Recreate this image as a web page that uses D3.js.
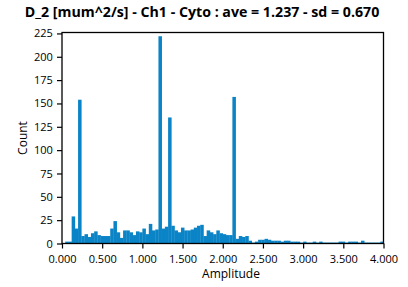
<!DOCTYPE html>
<html><head><meta charset="utf-8">
<script src="https://cdn.jsdelivr.net/npm/d3@7"></script>
<style>body{margin:0;background:#fff;}svg{display:block;}</style>
</head><body>
<script>
const title = "D_2 [mum^2/s] - Ch1 - Cyto : ave = 1.237 - sd = 0.670";
const xLabel = "Amplitude";
const yLabel = "Count";
const binWidth = 0.04;
const counts = [0,2,2,29,16,154,8,10,7,11,13,9,8,8,8,16,24,12,6,14,
14,12,9,13,12,16,10,21,14,15,222,16,18,135,19,14,12,17,14,14,
15,17,19,20,8,14,12,10,14,11,10,9,9,157,5,8,7,8,3,1,
2,4,4,5,4,3,3,3,2,3,3,2,2,2,1,2,1,1,2,1,
2,1,1,1,1,1,2,2,1,2,2,2,1,3,1,1,1,1,1,2];
const xTicks = [0,0.5,1,1.5,2,2.5,3,3.5,4];
const yTicks = [0,25,50,75,100,125,150,175,200,225];

const W=408,H=287;
const svg=d3.select("body").append("svg").attr("width",W).attr("height",H);
const L=62,R=383.5,T=32.5,B=243.5;
const x=d3.scaleLinear().domain([0,4]).range([L,R]);
const y=d3.scaleLinear().domain([0,226]).range([B,T]);
const font="'Segoe UI','Open Sans','DejaVu Sans',sans-serif";

svg.append("g").selectAll("rect").data(counts).join("rect")
  .attr("x",(d,i)=>x(i*binWidth))
  .attr("width",(d,i)=>x((i+1)*binWidth)-x(i*binWidth)+0.3)
  .attr("y",d=>y(d))
  .attr("height",d=>y(0)-y(d))
  .attr("fill","#0a84c6");

const xa=svg.append("g").attr("transform",`translate(0,${B})`)
  .call(d3.axisBottom(x).tickValues(xTicks).tickFormat(d3.format(".3f")).tickSize(5).tickSizeOuter(0));
const ya=svg.append("g").attr("transform",`translate(${L},0)`)
  .call(d3.axisLeft(y).tickValues(yTicks).tickSize(5).tickSizeOuter(0));
[xa,ya].forEach(a=>{
  a.select(".domain").remove();
  a.selectAll("line").attr("stroke","#000").attr("stroke-width",1.2);
  a.selectAll("text").attr("font-family",font).attr("font-size",11).attr("fill","#000");
});
xa.selectAll("text").attr("dy","1.0em");
ya.selectAll("text").attr("dx","-0.1em");

svg.append("rect").attr("x",L).attr("y",T).attr("width",R-L).attr("height",B-T)
  .attr("fill","none").attr("stroke","#000").attr("stroke-width",1.3);

svg.append("text").attr("x",202).attr("y",17).attr("text-anchor","middle")
  .attr("font-family",font).attr("font-weight","bold").attr("font-size",14.2).text(title);
svg.append("text").attr("x",231).attr("y",278).attr("text-anchor","middle")
  .attr("font-family",font).attr("font-size",12).text(xLabel);
svg.append("text").attr("transform",`translate(27,${(T+B)/2}) rotate(-90)`).attr("text-anchor","middle")
  .attr("font-family",font).attr("font-size",12).text(yLabel);
</script>
</body></html>
